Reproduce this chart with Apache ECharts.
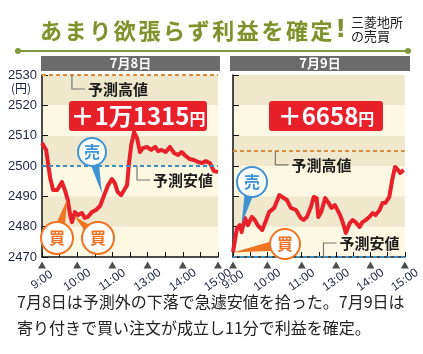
<!DOCTYPE html>
<html>
<head>
<meta charset="utf-8">
<script src="https://cdn.jsdelivr.net/npm/echarts@6/dist/echarts.min.js"></script>
<style>
html, body { margin: 0; padding: 0; background: #fff; }
#main { width: 423px; height: 354px; }
</style>
</head>
<body>
<div id="main"></div>
<script>
// 取引時間(分): 0=9:00, 150=11:30/12:30, 300=15:00
const timeLabels = ['9:00', '10:00', '11:00', '13:00', '14:00', '15:00'];
const dayTitles = ['7月8日', '7月9日'];
const profits = ['＋1万1315', '＋6658'];

const day1Times = [0, 7, 14, 19, 26, 34, 39, 44, 48, 51, 56, 61, 68, 73, 78, 85, 92, 99, 106, 112, 119, 124, 129, 135, 140, 145,
  148, 152, 157, 162, 167, 172, 179, 186, 193, 198, 204, 211, 218, 225, 232, 238, 245, 252, 259, 266, 273, 279, 286, 293, 300];
const day1Prices = [2507.6, 2505.3, 2496.0, 2492.1, 2492.1, 2494.7, 2492.1, 2488.8, 2483.8, 2481.5, 2484.8, 2483.8, 2484.5, 2482.9, 2483.2, 2484.8, 2485.5, 2486.8, 2490.4, 2493.4, 2495.7, 2494.4, 2491.4, 2490.4, 2492.1, 2493.7,
  2500.3, 2506.9, 2511.2, 2509.2, 2504.6, 2505.9, 2506.3, 2505.3, 2506.3, 2504.9, 2505.3, 2504.6, 2506.3, 2504.3, 2503.6, 2504.6, 2503.3, 2502.3, 2502.0, 2501.3, 2501.0, 2501.6, 2501.0, 2498.3, 2498.0];

const day2Times = [0, 7, 12, 15, 21, 26, 33, 38, 43, 51, 58, 63, 72, 81, 86, 94, 101, 110, 118, 123, 129, 136, 141, 146, 149, 154,
  161, 166, 172, 178, 187, 192, 197, 204, 209, 214, 221, 226, 232, 238, 244, 249, 256, 261, 266, 273, 278, 283, 288, 292, 298];
const day2Prices = [2471.6, 2479.6, 2480.5, 2478.2, 2482.9, 2480.5, 2483.2, 2482.2, 2480.5, 2478.9, 2482.2, 2484.8, 2486.2, 2490.4, 2489.8, 2488.8, 2486.2, 2485.5, 2482.9, 2482.2, 2483.2, 2486.5, 2489.8, 2489.4, 2483.2, 2484.8,
  2489.4, 2488.1, 2486.2, 2487.1, 2483.8, 2481.2, 2477.9, 2481.2, 2482.2, 2481.5, 2479.9, 2481.5, 2482.2, 2483.2, 2484.5, 2483.8, 2485.5, 2487.8, 2487.8, 2489.8, 2495.4, 2499.7, 2498.7, 2497.7, 2498.7];

const forecastHigh = [2530, 2505];
const forecastLow = [2500, 2470];

// 売買ポイント [パネル, 時間, 株価, 種類]
const trades = [
  [0, 43, 2489, '買'],
  [0, 55, 2483.5, '買'],
  [0, 102, 2491, '売'],
  [1, 0, 2471.5, '買'],
  [1, 15, 2481, '売']
];

const RED = '#e8202a';
const ORANGE = '#dc8a3c';
const BLUE = '#3d8cc4';
const FONT = 'Noto Sans CJK JP';

const chart = echarts.init(document.getElementById('main'));

const xAxisCfg = (i) => ({
  type: 'value', gridIndex: i, min: 0, max: 300, interval: 30,
  axisLine: { lineStyle: { color: '#111', width: 1.5 } },
  axisTick: { inside: true, length: 5, lineStyle: { color: '#111' } },
  splitLine: { show: false },
  axisLabel: {
    formatter: (v) => (v % 60 === 0 ? timeLabels[v / 60] : ''),
    rotate: 35, margin: 23, align: 'center', verticalAlign: 'middle',
    fontSize: 12, color: '#1d2540', fontFamily: 'Liberation Sans'
  }
});

const yAxisCfg = (i, showLabel) => ({
  type: 'value', gridIndex: i, min: 2470, max: 2530, interval: 10,
  axisLine: { show: true, lineStyle: { color: '#111', width: 1.5 } },
  axisTick: { show: true, inside: true, length: 6, lineStyle: { color: '#111' } },
  axisLabel: { show: showLabel, margin: 5, fontSize: 13, color: '#1d2540', fontFamily: 'Liberation Sans', formatter: (v) => String(v) },
  splitLine: { show: false },
  splitArea: { show: true, areaStyle: { color: ['#fdf8e2', '#efe8cd'] } }
});

const series = [];
[[day1Times, day1Prices], [day2Times, day2Prices]].forEach((d, i) => {
  series.push({
    type: 'line', xAxisIndex: i, yAxisIndex: i, data: [], z: 1, silent: true,
    markLine: {
      silent: true, symbol: ['none', 'none'], label: { show: false }, animation: false,
      lineStyle: { type: [4, 3], width: 2 },
      data: [
        { yAxis: forecastHigh[i], lineStyle: { color: ORANGE, type: [4, 3], width: 2 } },
        { yAxis: forecastLow[i], lineStyle: { color: BLUE, type: [4, 3], width: 2 } }
      ]
    }
  });
  series.push({
    type: 'line', xAxisIndex: i, yAxisIndex: i, z: 3,
    data: d[0].map((t, j) => [t, d[1][j]]),
    showSymbol: false, lineStyle: { color: RED, width: 4, join: 'round' }
  });
  series.push({
    type: 'scatter', xAxisIndex: i, yAxisIndex: i, z: 4, silent: true, clip: false,
    data: timeLabels.map((_, j) => [j * 60, 2470]),
    symbol: 'triangle', symbolSize: [8, 7], symbolOffset: [0, 8],
    itemStyle: { color: '#222' }
  });
});

chart.setOption({
  animation: false,
  grid: [
    { left: 42, top: 75, width: 176, height: 182 },
    { left: 233, top: 75, width: 175, height: 182 }
  ],
  xAxis: [xAxisCfg(0), xAxisCfg(1)],
  yAxis: [yAxisCfg(0, true), yAxisCfg(1, false)],
  series: series
});

// ---- 装飾 ----
const px = (g, p) => chart.convertToPixel({ gridIndex: g }, p);
const txt = (text, x, y, o, z) => ({
  type: 'text', z: z || 30,
  style: Object.assign({ text, x, y, fill: '#222', fontSize: 14, fontFamily: FONT, align: 'left', textAlign: 'left', verticalAlign: 'middle', textVerticalAlign: 'middle' }, o || {})
});

const g = [];

// タイトル
const title = 'あまり欲張らず利益を確定';
for (let i = 0; i < title.length; i++) {
  g.push(txt(title[i], 40 + i * 24.6, 31, { fill: '#7d9130', fontSize: 22, fontWeight: 'bold', stroke: '#f4f6d8', lineWidth: 1 }));
}
g.push(txt('!', 40 + title.length * 24.6, 31, { fill: '#7d9130', fontSize: 24, fontWeight: 'bold', fontFamily: 'DejaVu Sans' }));
g.push(txt('三菱地所', 351, 22, { fontSize: 13 }));
g.push(txt('の売買', 351, 36, { fontSize: 13 }));
g.push({ type: 'line', z: 30, shape: { x1: 18, y1: 51, x2: 408, y2: 51 }, style: { stroke: '#7f9a3a', lineWidth: 2 } });
g.push({ type: 'circle', z: 30, shape: { cx: 18, cy: 51, r: 3 }, style: { fill: '#7f9a3a' } });
g.push({ type: 'circle', z: 30, shape: { cx: 408, cy: 51, r: 3 }, style: { fill: '#7f9a3a' } });

// 日付の見出しと利益
const heads = [[41, 179], [230, 180]];
const badges = [[69, 138], [269, 114]];
heads.forEach((h, i) => {
  g.push({ type: 'rect', z: 30, shape: { x: h[0], y: 56, width: h[1], height: 15 }, style: { fill: '#6b6b6b' } });
  g.push(txt(dayTitles[i], h[0] + h[1] / 2, 63.5, { fill: '#fff', fontSize: 13, fontWeight: 'bold', align: 'center', textAlign: 'center' }));
  const b = badges[i];
  g.push({ type: 'rect', z: 30, shape: { x: b[0], y: 101, width: b[1], height: 30, r: 3 }, style: { fill: RED } });
  g.push({
    type: 'text', z: 31,
    style: {
      text: '{a|' + profits[i] + '}{b|円}', x: b[0] + b[1] / 2, y: 116,
      align: 'center', textAlign: 'center', verticalAlign: 'middle', textVerticalAlign: 'middle',
      rich: {
        a: { fontSize: 24, fontWeight: 'bold', fill: '#fff', color: '#fff', fontFamily: FONT },
        b: { fontSize: 16, fontWeight: 'bold', fill: '#fff', color: '#fff', fontFamily: FONT, padding: [6, 0, 0, 0] }
      }
    }
  });
});
g.push(txt('(円)', 11, 88, { fontSize: 12, fill: '#1d2540' }));

// 予測高値・予測安値の引き出し線
const leaders = [
  [0, [51, forecastHigh[0]], 1, '予測高値'],
  [0, [162, forecastLow[0]], 1, '予測安値'],
  [1, [74, forecastHigh[1]], 1, '予測高値'],
  [1, [158, forecastLow[1]], -1, '予測安値']
];
leaders.forEach((l) => {
  const p = px(l[0], l[1]);
  const y2 = p[1] + l[2] * 14;
  g.push({ type: 'polyline', z: 30, shape: { points: [p, [p[0], y2], [p[0] + 13, y2]] }, style: { stroke: '#777', lineWidth: 1.2, fill: null } });
  g.push(txt(l[3], p[0] + 16, y2, { fontSize: 15, fontWeight: 'bold', fill: '#1a1a1a' }));
});

// 売買の吹き出し
const bubblePos = [[57, 238, 16], [98, 238, 16], [92, 152, 14], [285, 244, 15], [252, 182, 15]];
trades.forEach((tr, i) => {
  const tip = px(tr[0], [tr[1], tr[2]]);
  const [cx, cy, r] = bubblePos[i];
  const color = tr[3] === '売' ? '#3f93d2' : '#ee7424';
  const dx = tip[0] - cx, dy = tip[1] - cy, d = Math.hypot(dx, dy);
  const nx = -dy / d, ny = dx / d, w = r * 0.42;
  g.push({ type: 'polygon', z: 40, shape: { points: [[cx + nx * w, cy + ny * w], [cx - nx * w, cy - ny * w], tip] }, style: { fill: color } });
  g.push({ type: 'circle', z: 41, shape: { cx, cy, r }, style: { fill: '#fff', stroke: color, lineWidth: 2 } });
  g.push(txt(tr[3], cx, cy, { fill: color, fontSize: 16, fontWeight: 'bold', align: 'center', textAlign: 'center' }, 42));
});

// 説明文
g.push(txt('7月8日は予測外の下落で急遽安値を拾った。7月9日は', 17, 302, { fontSize: 16, fill: '#222' }));
g.push(txt('寄り付きで買い注文が成立し11分で利益を確定。', 17, 328, { fontSize: 16, fill: '#222' }));

chart.setOption({ graphic: g });
</script>
</body>
</html>
